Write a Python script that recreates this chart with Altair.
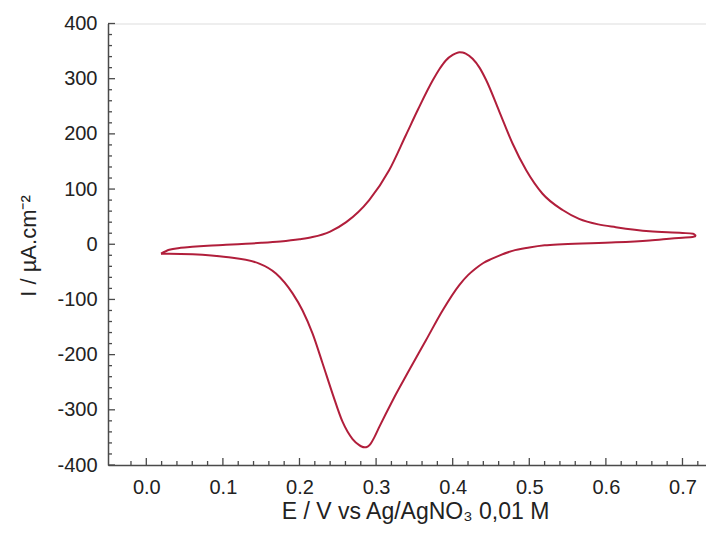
import altair as alt
import pandas as pd

# Forward (anodic) scan, E increasing
E_fwd = [0.0192, 0.03, 0.045, 0.06, 0.08, 0.104, 0.13, 0.15, 0.175, 0.20, 0.217, 0.24,
         0.261, 0.291, 0.317, 0.339, 0.355, 0.374, 0.383, 0.391, 0.40, 0.404, 0.409,
         0.413, 0.417, 0.426, 0.435, 0.4435, 0.461, 0.478, 0.496, 0.517, 0.5435, 0.565,
         0.59, 0.613, 0.657, 0.70, 0.714, 0.7176]
I_fwd = [-17, -10, -6.5, -4.5, -2.5, -1, 1, 2.5, 5, 9, 13, 23,
         40, 80, 134, 198, 245, 297, 318, 333, 343, 345.8, 348,
         347.3, 345.5, 336, 320, 298, 240, 183, 134, 92, 62, 46,
         36, 31, 23.5, 20.5, 19, 15]

# Reverse (cathodic) scan, E decreasing
E_rev = [0.7176, 0.71, 0.70, 0.657, 0.613, 0.5435, 0.52, 0.50, 0.478, 0.46, 0.45, 0.44,
         0.43, 0.42, 0.4086, 0.3868, 0.3651, 0.3433, 0.3216, 0.3042, 0.298, 0.292,
         0.289, 0.285, 0.281, 0.278, 0.2693, 0.2563, 0.2432, 0.2302, 0.2171, 0.204,
         0.191, 0.1693, 0.1475, 0.104, 0.0604, 0.03, 0.0192]
I_rev = [15, 12.5, 12, 7, 3.5, 0, -2, -6, -12, -21, -27, -34,
         -44, -56, -74, -120, -174, -228, -283, -331, -349, -363,
         -366.5, -368, -366.5, -364, -353, -322, -271, -216, -162, -120,
         -89, -53, -35, -23, -18, -17, -17]

x_major = [0.0, 0.1, 0.2, 0.3, 0.4, 0.5, 0.6, 0.7]
x_minor = [-0.02, 0.02, 0.04, 0.06, 0.08, 0.12, 0.14, 0.16, 0.18, 0.22, 0.24, 0.26, 0.28,
           0.32, 0.34, 0.36, 0.38, 0.42, 0.44, 0.46, 0.48, 0.52, 0.54, 0.56, 0.58,
           0.62, 0.64, 0.66, 0.68, 0.72]
y_major = [-400, -300, -200, -100, 0, 100, 200, 300, 400]
y_minor = [-380, -360, -340, -320, -280, -260, -240, -220, -180, -160, -140, -120,
           -80, -60, -40, -20, 20, 40, 60, 80, 120, 140, 160, 180,
           220, 240, 260, 280, 320, 340, 360, 380]

W, H = 598, 441.5
LINE = "#B11E3B"
AX = "#4a4a4a"
FONT = "Liberation Sans"

curve = pd.DataFrame({
    "E": E_fwd + E_rev,
    "I": I_fwd + I_rev,
    "branch": ["fwd"] * len(E_fwd) + ["rev"] * len(E_rev),
    "k": list(range(len(E_fwd))) + list(range(len(E_rev))),
})

xscale = alt.Scale(domain=[-0.05, 0.7307], nice=False, zero=False)
yscale = alt.Scale(domain=[-400, 400], nice=False, zero=False)

xaxis = alt.Axis(
    values=x_major, ticks=False, tickSize=0, grid=False,
    labelExpr="format(datum.value, '.1f')",
    labelFont=FONT, labelFontSize=20, labelColor="#222", labelPadding=12,
    domainColor=AX, domainWidth=1.5,
    title="E / V vs Ag/AgNO₃ 0,01 M", titleFont=FONT, titleFontSize=23,
    titleFontWeight="normal", titleColor="#222", titleBaseline="alphabetic",
    titleAlign="center", titleX=307, titleY=53,
)
yaxis = alt.Axis(
    values=y_major, ticks=False, tickSize=0, grid=False,
    labelExpr="datum.value + ''",
    labelFont=FONT, labelFontSize=20, labelColor="#222", labelPadding=11,
    domainColor=AX, domainWidth=1.5,
    title="I / µA.cm⁻²", titleFont=FONT, titleFontSize=22,
    titleFontWeight="normal", titleColor="#222", titleBaseline="alphabetic",
    titleAlign="center", titleAngle=270, titleX=-73, titleY=222,
)

line = alt.Chart(curve).mark_line(
    color=LINE, strokeWidth=2, interpolate="monotone"
).encode(
    x=alt.X("E:Q", scale=xscale, axis=xaxis),
    y=alt.Y("I:Q", scale=yscale, axis=yaxis),
    detail="branch:N",
    order="k:Q",
)

def xticks(vals, length):
    return alt.Chart(pd.DataFrame({"E": vals})).mark_rule(
        color=AX, strokeWidth=1.3
    ).encode(
        x=alt.X("E:Q", scale=xscale, axis=xaxis),
        y=alt.value(H), y2=alt.value(H - length),
    )

def yticks(vals, length):
    return alt.Chart(pd.DataFrame({"I": vals})).mark_rule(
        color=AX, strokeWidth=1.3
    ).encode(
        y=alt.Y("I:Q", scale=yscale, axis=yaxis),
        x=alt.value(0), x2=alt.value(length),
    )

chart = alt.layer(
    xticks(x_major, 7), xticks(x_minor, 4),
    yticks(y_major, 7), yticks(y_minor, 4),
    line,
).properties(
    width=W, height=H,
    padding={"left": 100, "top": 15.5, "right": 0, "bottom": 61},
    autosize=alt.AutoSizeParams(type="none"),
).configure_view(stroke=None).configure(background="white")

chart.save("out.html", embed_options={"renderer": "svg", "actions": False})
